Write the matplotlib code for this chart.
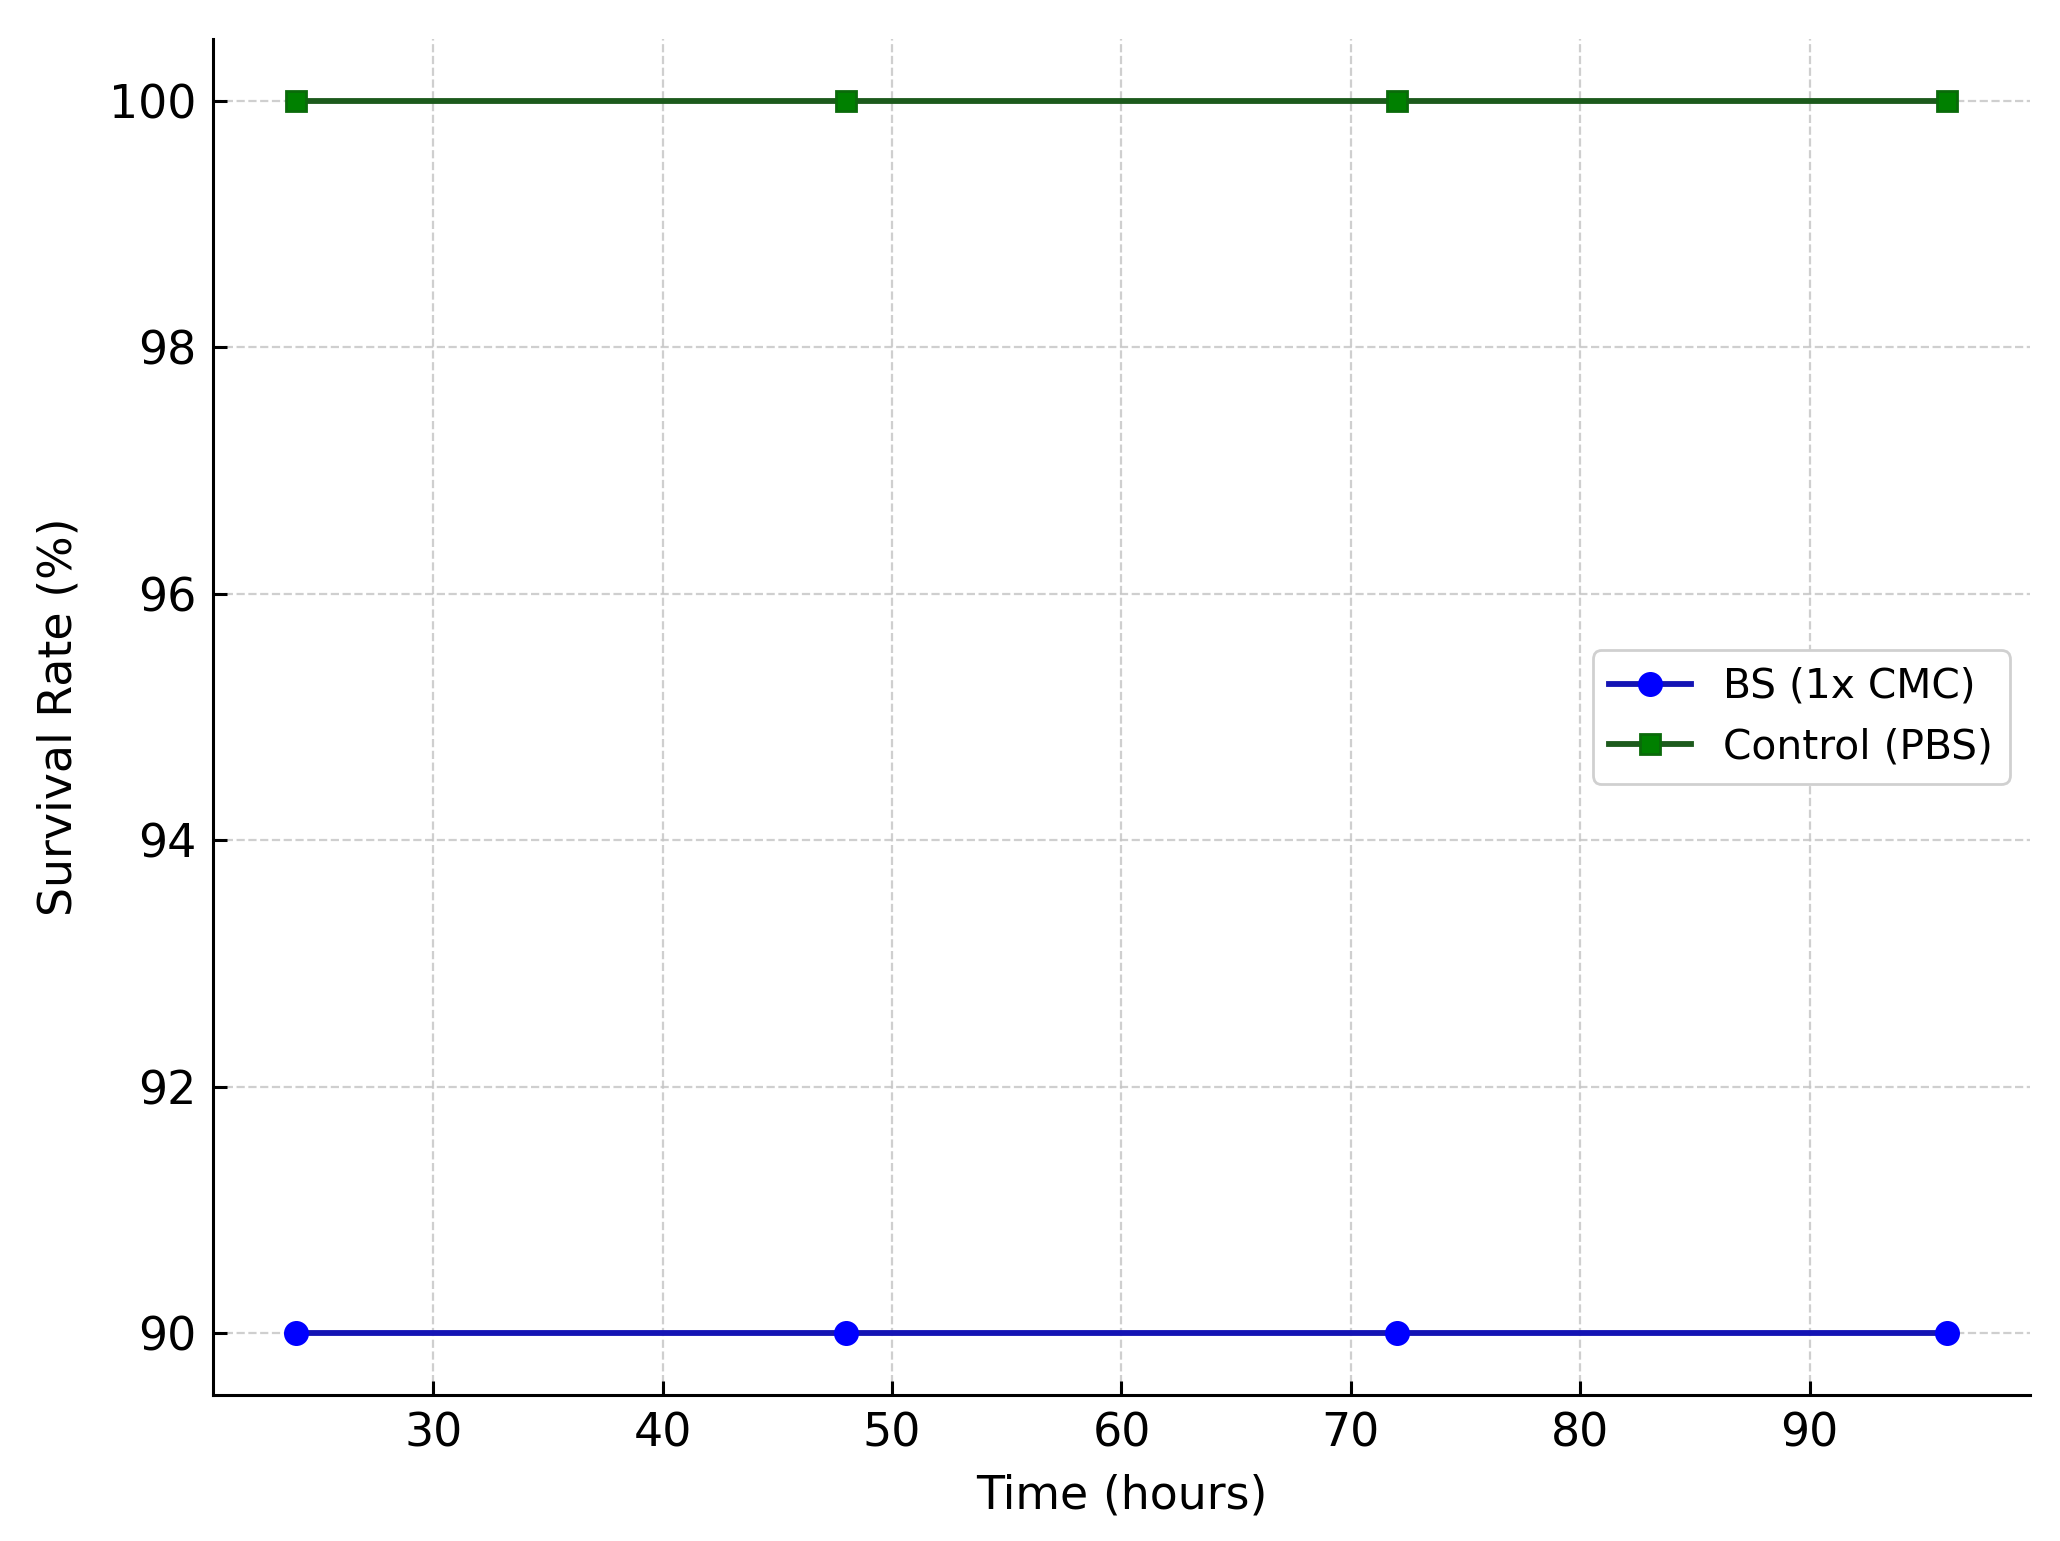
import matplotlib.pyplot as plt

hours = [24, 48, 72, 96]
bs_survival = [90, 90, 90, 90]
control_survival = [100, 100, 100, 100]

fig = plt.figure(figsize=(10.3, 7.705), dpi=200)
ax = fig.add_axes([0.1034, 0.0947, 0.882, 0.880])

ax.plot(hours, bs_survival, color="#1414b4", lw=2.1, marker="o", ms=8,
        mfc="blue", mec="blue", label="BS (1x CMC)")
ax.plot(hours, control_survival, color="#1c5a1c", lw=2.1, marker="s", ms=7,
        mfc="green", mec="#0a6a0a", label="Control (PBS)")

ax.set_xlabel("Time (hours)", fontsize=16.5, labelpad=6)
ax.set_ylabel("Survival Rate (%)", fontsize=16.5, labelpad=10)
ax.set_yticks([90, 92, 94, 96, 98, 100])

ax.spines["top"].set_visible(False)
ax.spines["right"].set_visible(False)
for s in ("left", "bottom"):
    ax.spines[s].set_linewidth(1.1)
ax.tick_params(direction="in", length=5, width=1.1, labelsize=16.5, pad=6)
ax.grid(True, linestyle="--", linewidth=0.8, color="#c4c4c4", alpha=0.8)

ax.legend(loc="center right", fontsize=14.7, framealpha=1, edgecolor="#d0d0d0")

fig.savefig("out.png", dpi=200)
plt.close()
